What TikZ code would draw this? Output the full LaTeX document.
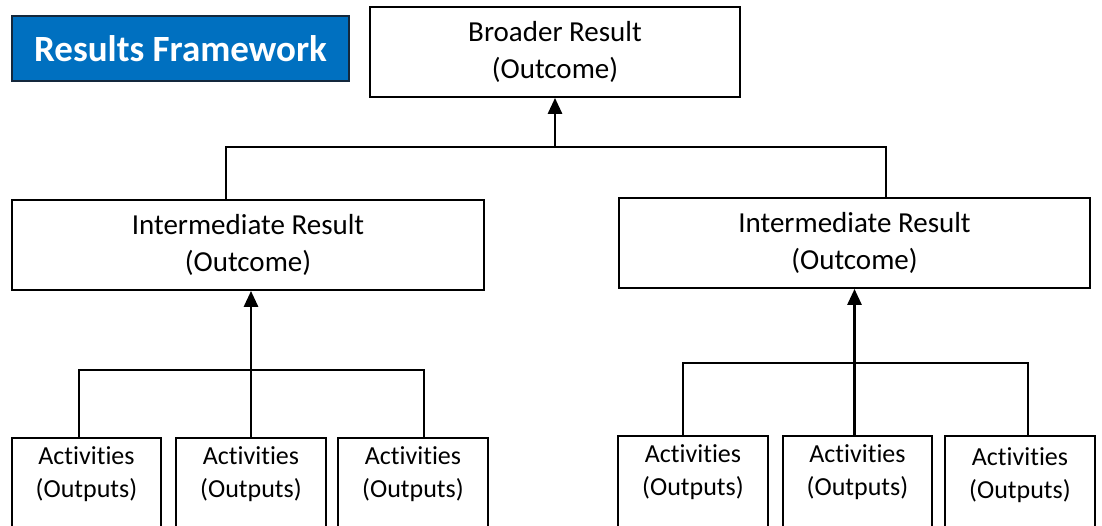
\documentclass[tikz,border=0pt]{standalone}
\usepackage{fontspec}
\setmainfont{Carlito}[Ligatures=NoCommon]
\usetikzlibrary{arrows.meta}

\definecolor{titleblue}{RGB}{0,112,192}
\definecolor{titleedge}{RGB}{20,40,60}

\tikzset{
  resbox/.style={draw, line width=1.8pt, align=center, inner sep=0pt,
    minimum height=90pt, font=\fontsize{29}{37}\selectfont},
  actbox/.style={draw, line width=1.8pt, align=center, anchor=north,
    minimum width=150pt, inner xsep=0pt, inner ysep=9pt, text depth=60pt,
    font=\fontsize{26}{33}\selectfont},
  link/.style={line width=1.8pt},
  uplink/.style={line width=2.8pt, -{Triangle[width=14pt,length=16pt]}},
}

\begin{document}
\begin{tikzpicture}[x=1pt,y=-1pt]

    \useasboundingbox (0,0) rectangle (1102,525);
    \clip (0,0) rectangle (1102,525);

    \node[draw=titleedge, fill=titleblue, line width=1.8pt, minimum width=337pt, minimum height=65pt,
      text=white, font=\fontsize{37}{40}\selectfont\bfseries] (title) at (180.5,48.5) {Results Framework};

    \node[resbox, minimum width=370pt] (broad) at (555,52) {Broader Result\\(Outcome)};
    \node[resbox, minimum width=472pt] (irL) at (248,245) {Intermediate Result\\(Outcome)};
    \node[resbox, minimum width=471pt] (irR) at (854.5,243) {Intermediate Result\\(Outcome)};

    \node[actbox, minimum width=149pt] (actL1) at (86.5,437) {Activities\\(Outputs)};
    \node[actbox] (actL2) at (251,437) {Activities\\(Outputs)};
    \node[actbox] (actL3) at (413,437) {Activities\\(Outputs)};

    \node[actbox] (actR1) at (693,435) {Activities\\(Outputs)};
    \node[actbox, minimum width=149pt] (actR2) at (857.5,435) {Activities\\(Outputs)};
    \node[actbox, inner ysep=12pt] (actR3) at (1020,435) {Activities\\(Outputs)};

    % top level
    \coordinate (topL) at (226,147);
    \coordinate (topR) at (886,147);
    \draw[link] (irL.north -| topL) -- (topL) -- (topR) -- (irR.north -| topR);
    \draw[uplink] (broad.south |- topL) -- (broad.south);

    % left branch
    \coordinate (botL1) at (79,370);
    \coordinate (botL3) at (424,370);
    \draw[link] (actL1.north -| botL1) -- (botL1) -- (botL3) -- (actL3.north -| botL3);
    \draw[uplink] (actL2.north) -- (actL2.north |- irL.south);

    % right branch
    \coordinate (botR1) at (683,363);
    \coordinate (botR3) at (1028,363);
    \draw[link] (actR1.north -| botR1) -- (botR1) -- (botR3) -- (actR3.north -| botR3);
    \draw[uplink] (actR2.north -| irR.south) -- (irR.south);

\end{tikzpicture}
\end{document}
